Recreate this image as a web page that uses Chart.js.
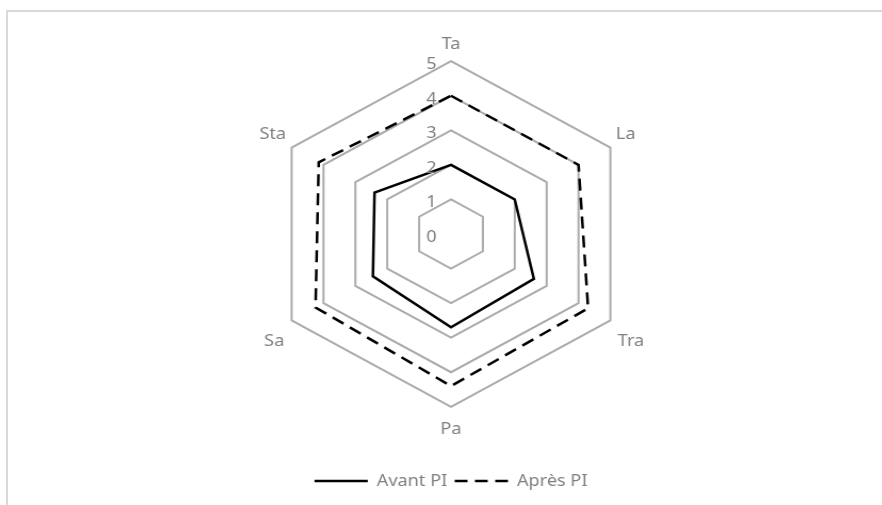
<!DOCTYPE html>
<html>
<head>
<meta charset="utf-8">
<script src="https://cdn.jsdelivr.net/npm/chart.js@4.4.1/dist/chart.umd.min.js"></script>
<style>
  html, body { margin: 0; padding: 0; background: #fff; overflow: hidden; }
  #frame {
    position: absolute; left: 6px; top: 10px; width: 880px; height: 500px;
    border-top: 2px solid #d9d9d9; border-left: 2px solid #d9d9d9;
  }
  #wrap {
    position: absolute; left: 10px; top: 0; width: 882px; height: 505px;
    transform: scaleX(1.065); transform-origin: 441px 0;
  }
</style>
</head>
<body>
<div id="frame"></div>
<div id="wrap"><canvas id="radarChart" width="882" height="505"></canvas></div>
<script>
const categories = ['Ta', 'La', 'Tra', 'Pa', 'Sa', 'Sta'];
const avantPI = [2, 2, 2.6, 2.7, 2.45, 2.4];
const apresPI = [4, 4, 4.3, 4.4, 4.25, 4.15];
const tickLabels = [0, 1, 2, 3, 4, 5];

const textColor = '#808080';
const fontFamily = '"Noto Sans", "Open Sans", sans-serif';
const fontSize = 17;
// Excel places the labels a little differently from Chart.js, nudge each one
const labelPadding = [7, 6, 8, 12, 8, 6];
const labelLineHeight = [20.4, 20.4, 34, 20.4, 34, 20.4];

// tick labels sit left of the vertical axis, like Excel
const tickLabelPlugin = {
    id: 'tickLabels',
    afterDraw(chart) {
        const scale = chart.scales.r;
        const ctx = chart.ctx;
        ctx.save();
        ctx.font = fontSize + 'px ' + fontFamily;
        ctx.fillStyle = textColor;
        ctx.textAlign = 'center';
        ctx.textBaseline = 'middle';
        tickLabels.forEach(v => {
            const d = scale.getDistanceFromCenterForValue(v);
            ctx.fillText(String(v), scale.xCenter - 18.5, scale.yCenter - d + 3);
        });
        ctx.restore();
    }
};

const data = {
    labels: categories,
    datasets: [
        {
            label: 'Avant PI',
            data: avantPI,
            borderColor: '#000',
            borderWidth: 2.5,
            fill: false,
            pointRadius: 0,
            borderJoinStyle: 'miter'
        },
        {
            label: 'Après PI',
            data: apresPI,
            borderColor: '#000',
            borderWidth: 2.5,
            borderDash: [12, 7],
            fill: false,
            pointRadius: 0,
            borderJoinStyle: 'miter'
        }
    ]
};

const config = {
    type: 'radar',
    data: data,
    options: {
        responsive: false,
        animation: false,
        layout: { padding: { top: 31.8, bottom: 5.5, left: 0, right: 0 } },
        elements: { line: { tension: 0 } },
        plugins: {
            tooltip: { enabled: false },
            legend: {
                position: 'bottom',
                title: { display: true, text: '', font: { size: 1 }, padding: { top: 22.1, bottom: 0 } },
                labels: {
                    color: textColor,
                    font: { family: fontFamily, size: fontSize },
                    padding: 7,
                    usePointStyle: true,
                    pointStyleWidth: 50,
                    generateLabels(chart) {
                        return chart.data.datasets.map((ds, i) => ({
                            text: ds.label,
                            datasetIndex: i,
                            fontColor: textColor,
                            pointStyle: 'line',
                            strokeStyle: '#000',
                            fillStyle: '#000',
                            lineWidth: 2.5,
                            lineDash: ds.borderDash || [],
                            hidden: false
                        }));
                    }
                }
            }
        },
        scales: {
            r: {
                min: 0,
                max: 5,
                ticks: { stepSize: 1, display: false },
                angleLines: { display: false },
                grid: { color: '#ababab', lineWidth: 2 },
                pointLabels: {
                    color: textColor,
                    padding: ctx => labelPadding[ctx.index],
                    font: ctx => ({ family: fontFamily, size: fontSize, lineHeight: labelLineHeight[ctx.index] + 'px' })
                }
            }
        }
    },
    plugins: [tickLabelPlugin]
};

new Chart(document.getElementById('radarChart'), config);
</script>
</body>
</html>
